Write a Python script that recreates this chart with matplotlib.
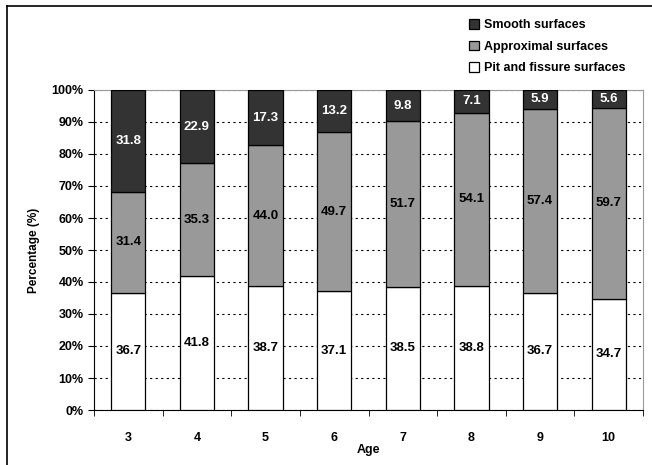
import numpy as np
import matplotlib.pyplot as plt
from matplotlib.lines import Line2D

plt.rcParams["font.family"] = ["Liberation Sans", "DejaVu Sans"]
plt.rcParams["font.weight"] = "bold"

ages = ["3", "4", "5", "6", "7", "8", "9", "10"]
pit_fissure = [36.7, 41.8, 38.7, 37.1, 38.5, 38.8, 36.7, 34.7]
approximal = [31.4, 35.3, 44.0, 49.7, 51.7, 54.1, 57.4, 59.7]
smooth = [31.8, 22.9, 17.3, 13.2, 9.8, 7.1, 5.9, 5.6]

series = [
    ("Pit and fissure surfaces", pit_fissure, "#ffffff", "black"),
    ("Approximal surfaces", approximal, "#999999", "black"),
    ("Smooth surfaces", smooth, "#333333", "white"),
]

fig = plt.figure(figsize=(6.52, 4.65), dpi=100)
ax = fig.add_axes([94 / 652, 55 / 465, 549 / 652, 320 / 465])

x = np.arange(len(ages))
bottom = np.zeros(len(ages))
handles = []
for name, vals, color, txt in series:
    vals = np.array(vals)
    bars = ax.bar(x, vals, 0.5, bottom=bottom, color=color,
                  edgecolor="black", linewidth=0.9, zorder=3, label=name)
    for xi, b, v in zip(x, bottom, vals):
        ax.text(xi, b + v / 2, f"{v:.1f}", ha="center", va="center",
                color=txt, fontsize=9.5, fontweight="bold", zorder=4)
    handles.append(bars)
    bottom = bottom + vals

ax.set_xlim(-0.5, len(ages) - 0.5)
ax.set_ylim(0, 100)
ax.set_yticks(np.arange(0, 101, 10))
ax.set_yticklabels([f"{v}%" for v in range(0, 101, 10)], fontsize=9)
ax.set_xticks(x)
ax.set_xticklabels(ages, fontsize=9)
ax.set_xticks(np.arange(-0.5, len(ages), 1), minor=True)
ax.tick_params(axis="x", which="major", length=0, pad=16)
ax.tick_params(axis="x", which="minor", length=4, direction="out")
ax.tick_params(axis="y", length=4, direction="out")

ax.yaxis.grid(True, linestyle=(0, (2, 3)), color="black", linewidth=0.8, zorder=0)
ax.set_axisbelow(True)

for side in ["top", "right"]:
    ax.spines[side].set_color("#999999")
for side in ["left", "bottom"]:
    ax.spines[side].set_color("black")

ax.set_ylabel("Percentage (%)", fontsize=8.5, fontweight="bold", labelpad=8)
ax.set_xlabel("Age", fontsize=9, fontweight="bold", labelpad=0)

fig.legend(handles[::-1], [s[0] for s in series][::-1],
           loc="upper left", bbox_to_anchor=(458 / 652, 1 - 8 / 465),
           frameon=False, fontsize=9, handlelength=0.8, handleheight=0.8,
           labelspacing=0.75, handletextpad=0.4)

# outer chart border (left and top edges visible)
fig.add_artist(Line2D([7 / 652, 7 / 652], [0, 1 - 6 / 465], color="black", lw=1.2))
fig.add_artist(Line2D([7 / 652, 1], [1 - 6 / 465, 1 - 6 / 465], color="black", lw=1.2))

fig.savefig("out.png", dpi=100)
